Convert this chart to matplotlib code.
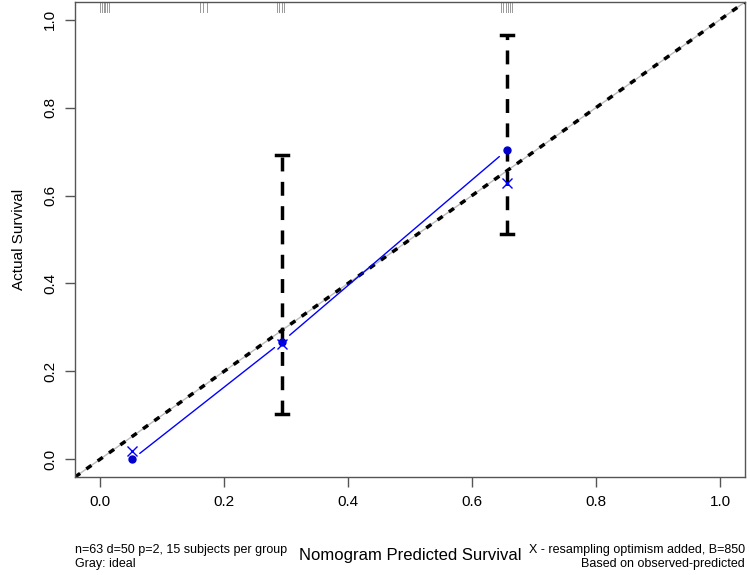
import numpy as np
import matplotlib.pyplot as plt

plt.rcParams['font.family'] = ['Liberation Sans', 'DejaVu Sans']

# group means: predicted vs observed (Kaplan-Meier)
pred = [0.052, 0.294, 0.656]
observed = [0.0, 0.268, 0.703]
corrected = [0.019, 0.262, 0.628]
ci_low = [np.nan, 0.104, 0.512]
ci_high = [np.nan, 0.692, 0.965]

# predicted values of subjects (rug along top)
rug = [0.0, 0.003, 0.006, 0.009, 0.012, 0.015,
       0.162, 0.166, 0.172,
       0.286, 0.289, 0.293, 0.297,
       0.646, 0.650, 0.654, 0.658, 0.662, 0.665]

ticks = [0.0, 0.2, 0.4, 0.6, 0.8, 1.0]
tick_labels = ['0.0', '0.2', '0.4', '0.6', '0.8', '1.0']

fig = plt.figure(figsize=(7.5, 5.75), dpi=100)
ax = fig.add_axes([0.1, 0.1704, 0.8933, 0.8261])
ax.set_xlim(-0.04, 1.04)
ax.set_ylim(-0.04, 1.04)

# ideal line
ax.plot([-0.04, 1.04], [-0.04, 1.04], color='#bbbbbb', lw=1, zorder=1)
ax.plot([-0.04, 1.04], [-0.04, 1.04], color='black', lw=2.5, ls=(0, (1.8, 2.2)), zorder=2)

# error bars
for x, lo, hi in zip(pred, ci_low, ci_high):
    if np.isnan(lo):
        continue
    ax.plot([x, x], [lo, hi], color='black', lw=2.5, ls=(0, (4, 3)), zorder=3)
    for yy in (lo, hi):
        ax.plot([x - 0.01, x + 0.01], [yy, yy], color='black', lw=2.5, zorder=3)

# observed line, drawn with gaps around points (type="b")
for i in range(len(pred) - 1):
    ax.annotate('', xy=(pred[i + 1], observed[i + 1]), xytext=(pred[i], observed[i]),
                arrowprops=dict(arrowstyle='-', color='blue', lw=1, shrinkA=7, shrinkB=7),
                zorder=4)
ax.plot(pred, observed, 'o', color='#0000cc', ms=5, zorder=5)
ax.plot(pred, corrected, 'x', color='blue', ms=7, mew=1, zorder=5)

# rug
for r in rug:
    ax.plot([r, r], [1.04, 1.017], color='#999999', lw=0.7, zorder=1)

ax.set_xticks(ticks)
ax.set_xticklabels(tick_labels)
ax.set_yticks(ticks)
ax.set_yticklabels(tick_labels, rotation=90, va='center')
ax.tick_params(direction='out', length=7, width=1, colors='#555555', labelcolor='black',
               labelsize=11, pad=6)
for s in ax.spines.values():
    s.set_color('#555555')
    s.set_linewidth(1)

ax.set_xlabel('Nomogram Predicted Survival', fontsize=12, labelpad=28)
ax.set_ylabel('Actual Survival', fontsize=11, labelpad=12)

ax.text(0.0, -0.14, 'n=63 d=50 p=2, 15 subjects per group\nGray: ideal',
        transform=ax.transAxes, fontsize=9, ha='left', va='top', linespacing=1.3)
ax.text(1.0, -0.14, 'X - resampling optimism added, B=850\nBased on observed-predicted',
        transform=ax.transAxes, fontsize=9, ha='right', va='top', linespacing=1.3,
        multialignment='right')

fig.savefig('out.png', dpi=100)
